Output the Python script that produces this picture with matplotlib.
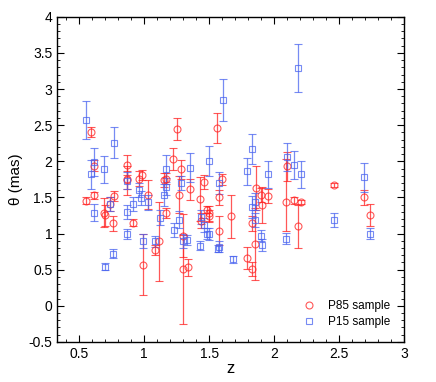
#!/usr/bin/python3

import numpy as np
import matplotlib
matplotlib.use("Agg")
import matplotlib.pyplot as plt
from matplotlib.ticker import MultipleLocator, FuncFormatter

# P85 sample: redshift, theta (mas), lower / upper error
p85_z = [0.55, 0.59, 0.61, 0.61, 0.69, 0.70, 0.74, 0.77, 0.76, 0.865,
         0.865, 0.87, 0.91, 0.96, 0.98, 0.99, 1.03, 1.08, 1.11, 1.155,
         1.17, 1.17, 1.22, 1.25, 1.27, 1.28, 1.30, 1.30, 1.34, 1.35,
         1.43, 1.44, 1.46, 1.48, 1.50, 1.50, 1.56, 1.575, 1.575, 1.60,
         1.67, 1.79, 1.83, 1.83, 1.85, 1.86, 1.90, 1.91, 1.95, 2.09,
         2.10, 2.15, 2.18, 2.21, 2.46, 2.69, 2.74]
p85_theta = [1.455, 2.40, 1.94, 1.53, 1.29, 1.25, 1.41, 1.52, 1.14, 1.95,
             1.76, 1.74, 1.15, 1.76, 1.81, 0.57, 1.54, 0.77, 0.89, 1.74,
             1.76, 1.28, 2.03, 2.45, 1.54, 1.89, 0.97, 0.51, 0.53, 1.61,
             1.48, 1.18, 1.71, 1.33, 1.28, 1.24, 2.46, 1.04, 1.50, 1.75,
             1.24, 0.66, 1.14, 0.51, 0.85, 1.63, 1.53, 1.40, 1.52, 1.43,
             1.93, 1.46, 1.10, 1.44, 1.67, 1.50, 1.26]
p85_lo = [0.05, 0.07, 0.08, 0.05, 0.20, 0.15, 0.10, 0.07, 0.10, 0.14,
          0.15, 0.20, 0.05, 0.10, 0.07, 0.42, 0.20, 0.07, 0.55, 0.10,
          0.08, 0.07, 0.15, 0.15, 0.25, 0.13, 0.30, 0.76, 0.12, 0.15,
          0.30, 0.10, 0.10, 0.05, 0.10, 0.08, 0.21, 0.20, 0.10, 0.08,
          0.30, 0.15, 0.10, 0.10, 0.50, 0.30, 0.10, 0.25, 0.10, 0.40,
          0.20, 0.05, 0.30, 0.03, 0.03, 0.10, 0.15]
p85_hi = [0.05, 0.07, 0.08, 0.05, 0.20, 0.15, 0.10, 0.07, 0.10, 0.14,
          0.10, 0.20, 0.05, 0.10, 0.07, 0.42, 0.20, 0.07, 0.55, 0.10,
          0.08, 0.07, 0.15, 0.15, 0.25, 0.13, 0.30, 0.47, 0.12, 0.15,
          0.30, 0.10, 0.10, 0.05, 0.10, 0.08, 0.21, 0.20, 0.10, 0.08,
          0.30, 0.15, 0.10, 0.10, 0.50, 0.30, 0.10, 0.25, 0.10, 0.60,
          0.20, 0.05, 0.30, 0.03, 0.03, 0.10, 0.15]

# P15 sample
p15_z = [0.556, 0.59, 0.61, 0.61, 0.69, 0.70, 0.74, 0.76, 0.77, 0.87,
         0.87, 0.865, 0.91, 0.96, 0.975, 0.99, 1.03, 1.08, 1.12, 1.155,
         1.17, 1.17, 1.23, 1.27, 1.28, 1.30, 1.33, 1.35, 1.43, 1.44,
         1.46, 1.48, 1.50, 1.50, 1.575, 1.57, 1.575, 1.61, 1.68, 1.79,
         1.83, 1.83, 1.85, 1.85, 1.90, 1.91, 1.95, 2.09, 2.10, 2.15,
         2.18, 2.21, 2.46, 2.69, 2.74]
p15_theta = [2.57, 1.82, 1.99, 1.29, 1.89, 0.54, 1.41, 0.72, 2.26, 1.73,
             1.30, 0.995, 1.41, 1.60, 1.49, 0.90, 1.43, 0.89, 1.22, 1.53,
             1.65, 1.90, 1.05, 1.19, 1.70, 0.90, 0.91, 1.91, 0.83, 1.23,
             1.12, 1.00, 0.99, 2.00, 0.82, 0.79, 1.70, 2.85, 0.645, 1.86,
             2.17, 1.37, 1.44, 1.19, 0.97, 0.84, 1.82, 0.93, 2.06, 1.95,
             3.29, 1.82, 1.19, 1.78, 1.00]
p15_err = [0.26, 0.20, 0.20, 0.12, 0.19, 0.05, 0.10, 0.06, 0.22, 0.12,
           0.10, 0.07, 0.10, 0.10, 0.10, 0.10, 0.10, 0.07, 0.10, 0.15,
           0.12, 0.19, 0.10, 0.12, 0.10, 0.10, 0.07, 0.20, 0.06, 0.10,
           0.10, 0.08, 0.08, 0.21, 0.07, 0.05, 0.15, 0.29, 0.05, 0.19,
           0.21, 0.15, 0.12, 0.10, 0.08, 0.08, 0.19, 0.08, 0.20, 0.19,
           0.33, 0.19, 0.10, 0.20, 0.07]


def main():
    plt.rcParams['font.family'] = ['Liberation Sans', 'DejaVu Sans']

    fig = plt.figure(figsize=(4.36, 3.82), dpi=100)
    ax = fig.add_axes([0.131, 0.105, 0.796, 0.851])

    red = '#ff2020'
    blue = '#4a64f0'

    ax.errorbar(p85_z, p85_theta, yerr=[p85_lo, p85_hi], fmt='o',
                mfc='none', mec=red, ecolor=red, ms=5, mew=0.8,
                elinewidth=0.9, capsize=3, capthick=0.9, alpha=0.75,
                label='P85 sample')
    ax.errorbar(p15_z, p15_theta, yerr=p15_err, fmt='s',
                mfc='none', mec=blue, ecolor=blue, ms=4.5, mew=0.8,
                elinewidth=0.9, capsize=3, capthick=0.9, alpha=0.75,
                label='P15 sample')

    ax.set_xlim(0.33, 3.0)
    ax.set_ylim(-0.5, 4.0)
    fmt = FuncFormatter(lambda v, p: '%g' % round(v, 2))
    ax.xaxis.set_major_locator(MultipleLocator(0.5))
    ax.xaxis.set_minor_locator(MultipleLocator(0.1))
    ax.yaxis.set_major_locator(MultipleLocator(0.5))
    ax.yaxis.set_minor_locator(MultipleLocator(0.1))
    ax.xaxis.set_major_formatter(fmt)
    ax.yaxis.set_major_formatter(fmt)
    ax.tick_params(which='both', direction='in', top=True, right=True,
                   labelsize=10)
    ax.tick_params(which='major', length=5)
    ax.tick_params(which='minor', length=2.5)
    for s in ax.spines.values():
        s.set_linewidth(1.0)

    ax.set_xlabel('z', fontsize=12, labelpad=0)
    ax.set_ylabel(u'\u03b8 (mas)', fontsize=11, labelpad=4)

    # legend: markers only, no error bars
    h, l = ax.get_legend_handles_labels()
    h = [hh[0] for hh in h]
    ax.legend(h, l, loc='lower right', frameon=False, fontsize=8.5,
              handletextpad=0.6, borderaxespad=0.8, labelspacing=0.3)

    fig.savefig('out.png', dpi=100)


if __name__ == "__main__":
    main()
